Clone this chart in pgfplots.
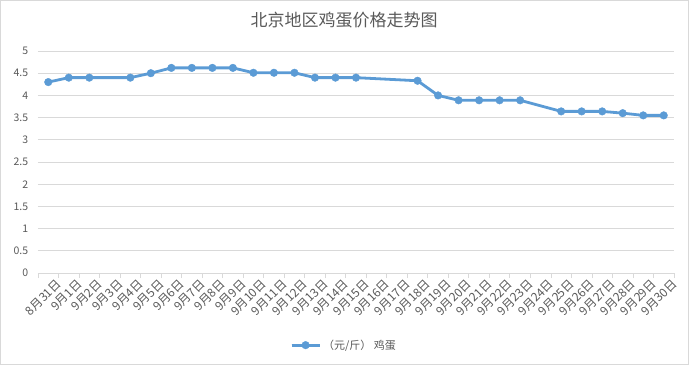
\documentclass[border=0pt]{standalone}
\usepackage{pgfplots}
\pgfplotsset{compat=1.18}
\usepackage{fontspec}
\setmainfont{Noto Sans CJK SC}
\definecolor{lineblue}{HTML}{5B9BD5}
\definecolor{gridgray}{HTML}{D9D9D9}
\definecolor{txtgray}{HTML}{595959}
\begin{document}
\begin{tikzpicture}[x=1pt,y=1pt]
\useasboundingbox (0,0) rectangle (689,365);
\draw[gridgray] (0.5,0.5) rectangle (688.5,364.5);
\node[txtgray,font=\fontsize{17}{20}\selectfont] at (344,345) {北京地区鸡蛋价格走势图};
\begin{axis}[
  at={(38pt,92pt)}, anchor=south west,
  scale only axis, width=636pt, height=222pt,
  xmin=-0.5, xmax=30.5, ymin=0, ymax=5,
  ytick={0,0.5,...,5},
  yticklabels={0,0.5,1,1.5,2,2.5,3,3.5,4,4.5,5},
  xtick={0,...,30},
  xticklabels={8月31日,9月1日,9月2日,9月3日,9月4日,9月5日,9月6日,9月7日,9月8日,9月9日,9月10日,9月11日,9月12日,9月13日,9月14日,9月15日,9月16日,9月17日,9月18日,9月19日,9月20日,9月21日,9月22日,9月23日,9月24日,9月25日,9月26日,9月27日,9月28日,9月29日,9月30日},
  x tick label style={rotate=45, anchor=north east, font=\fontsize{12}{13}\selectfont, text=txtgray, inner sep=0.5pt, xshift=5pt, yshift=-5pt},
  y tick label style={font=\fontsize{10.5}{12}\selectfont, text=txtgray, xshift=-2pt},
  /pgf/number format/assume math mode=true,
  major x tick style={draw=none},
  minor xtick={-0.5,0.5,...,30.5},
  minor x tick style={gridgray, line width=0.8pt},
  minor tick length=5pt,
  tick align=outside,
  major y tick style={draw=none},
  ymajorgrids, grid style={gridgray, line width=0.8pt},
  axis x line*=bottom, axis y line*=left,
  x axis line style={gridgray, line width=0.8pt},
  y axis line style={draw=none},
  clip=false,
  legend style={at={(axis description cs:0.5,-0.325)}, anchor=center, xshift=-12pt, draw=none, font=\fontsize{11}{12}\selectfont, text=txtgray, legend cell align=left, inner sep=1pt},
  legend image code/.code={\draw[#1] (0pt,0pt) -- (28pt,0pt); \draw[#1,mark repeat=2,mark phase=2] plot coordinates {(0pt,0pt) (14pt,0pt) (28pt,0pt)};},
]
\addplot[color=lineblue, line width=2.8pt, mark=*, mark size=3.8pt, mark options={fill=lineblue, draw=lineblue, line width=0.4pt}] coordinates {
(0,4.30) (1,4.40) (2,4.40) (4,4.40) (5,4.50) (6,4.62) (7,4.62) (8,4.62) (9,4.62)
(10,4.51) (11,4.51) (12,4.51) (13,4.40) (14,4.40) (15,4.40)
(18,4.33) (19,4.00) (20,3.89) (21,3.89) (22,3.89) (23,3.89)
(25,3.64) (26,3.64) (27,3.64) (28,3.60) (29,3.55) (30,3.55)
};
\addlegendentry{（元/斤） 鸡蛋}
\end{axis}
\end{tikzpicture}
\end{document}
